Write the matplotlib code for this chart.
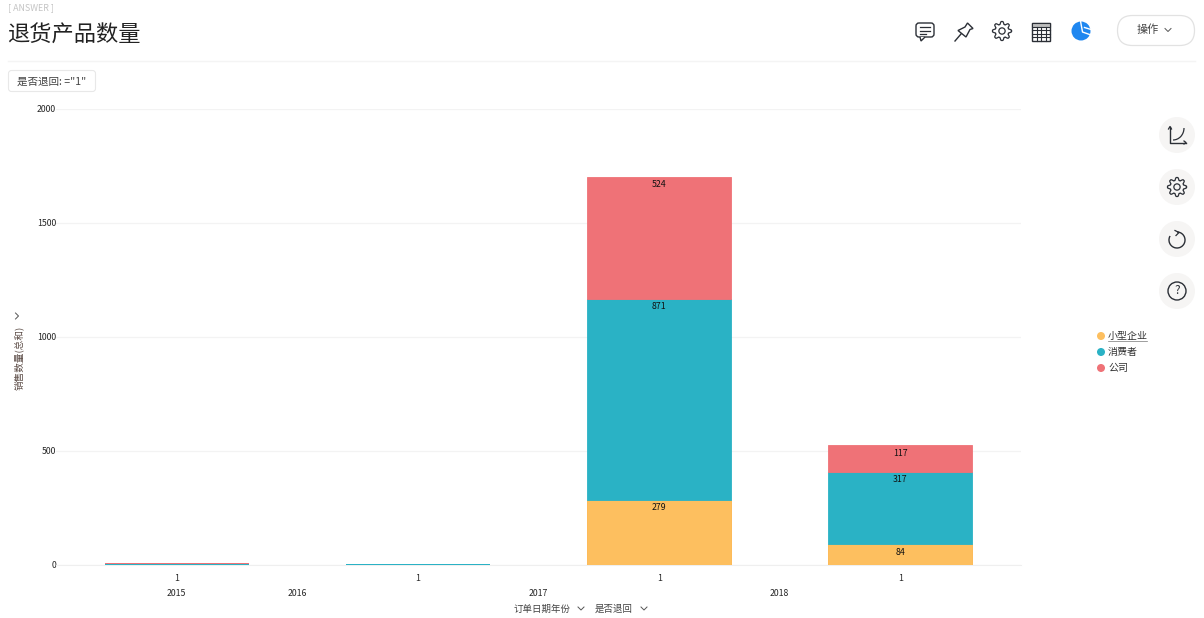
import numpy as np
import matplotlib
matplotlib.use('Agg')
import matplotlib.pyplot as plt
from matplotlib.patches import Circle, FancyBboxPatch, Polygon, Rectangle, Arc

plt.rcParams['font.family'] = ['Noto Sans CJK SC', 'DejaVu Sans']

# ----------------------------------------------
# data
years = ['2015', '2016', '2017', '2018']
returned = ['1', '1', '1', '1']
segments = ['小型企业', '消费者', '公司']
# bar heights as read against the y axis
small_business = [1, 0, 287, 90]
consumer = [3, 6, 881, 320]
company = [5, 0, 534, 116]
# numbers printed on the bars, slightly smaller than the drawn heights
small_business_labels = ['', '', '279', '84']
consumer_labels = ['', '', '871', '317']
company_labels = ['', '', '524', '117']
y_ticks = [0, 500, 1000, 1500, 2000]
colors = ['#FDBF5F', '#2AB2C5', '#EF7277']
edges = ['#FDB54A', '#2AB2C5', '#EF7277']

W, H = 1204, 618
TEXT = '#262626'
ICON = '#2b2f36'

fig = plt.figure(figsize=(W / 100, H / 100), dpi=100)

# overlay in pixel coordinates for the page chrome
page = fig.add_axes([0, 0, 1, 1], zorder=0)
page.set_xlim(0, W)
page.set_ylim(H, 0)
page.axis('off')

# ----------------------------------------------
# chart
ax = fig.add_axes([56 / W, (H - 565) / H, (1021 - 56) / W, (565 - 109) / H], zorder=1)
ax.patch.set_alpha(0)
x = np.arange(len(years))
bottom = np.zeros(len(years))
series = zip(segments, [small_business, consumer, company],
             [small_business_labels, consumer_labels, company_labels], colors, edges)
for name, values, labels, color, edge in series:
    widths = [0.6 if label else 0 for label in labels]  # slivers and empty bars get no outline
    ax.bar(x, values, width=0.597, bottom=bottom, color=color, edgecolor=edge, linewidth=widths, label=name, zorder=3)
    for xi, v, b, label in zip(x, values, bottom, labels):
        if label:
            ax.annotate(label, (xi, b + v), xytext=(0, -8), textcoords='offset pixels',
                        ha='center', va='center', fontsize=6.3, color='#111111', zorder=4)
    bottom += np.array(values)

ax.set_xlim(-0.5, len(years) - 0.5)
ax.set_ylim(0, 2000)
ax.set_yticks(y_ticks)
ax.set_xticks(x)
ax.set_xticklabels(returned)
ax.tick_params(axis='both', length=0, labelsize=6.3, labelcolor=TEXT)
ax.tick_params(axis='x', pad=6.5)
ax.tick_params(axis='y', pad=0)
ax.grid(axis='y', color='#f3f3f3', linewidth=0.9, zorder=0)
ax.set_axisbelow(True)
for side in ['top', 'right', 'left']:
    ax.spines[side].set_visible(False)
ax.spines['bottom'].set_color('#efefef')

# year labels sit half a category to the left, except the first one
for i, year in enumerate(years):
    pos = 0 if i == 0 else i - 0.5
    ax.annotate(year, (pos, 0), xycoords=('data', 'axes fraction'), xytext=(0, -28), textcoords='offset pixels',
                ha='center', va='center', fontsize=6.3, color=TEXT)

# ----------------------------------------------
# helpers for icons
def chevron(cx, cy, size=3, color='#555555', right=False):
    if right:
        page.plot([cx - size / 2, cx + size / 2, cx - size / 2], [cy - size, cy, cy + size], color=color, lw=0.7)
    else:
        page.plot([cx - size, cx, cx + size], [cy - size / 2, cy + size / 2, cy - size / 2], color=color, lw=0.7)

def gear(cx, cy, r=9.5):
    angles = np.linspace(0, 2 * np.pi, 65)
    radius = r * (0.86 + 0.14 * np.clip(2.2 * np.cos(8 * angles), -1, 1))
    page.plot(cx + radius * np.cos(angles), cy + radius * np.sin(angles), color=ICON, lw=0.9)
    page.add_patch(Circle((cx, cy), r * 0.33, fill=False, ec=ICON, lw=0.9))

# ----------------------------------------------
# header
page.text(8, 8, '[ ANSWER ]', fontsize=6.4, color='#c4c4c4', va='center', ha='left')
page.text(7.5, 35.5, '退货产品数量', fontsize=16, color='#222222', va='center', ha='left')
page.plot([8, 1195], [61, 61], color='#f4f4f4', lw=1)

page.add_patch(FancyBboxPatch((8.5, 70.5), 87, 21, boxstyle='round,pad=0,rounding_size=3', fc='white', ec='#e8e8e8', lw=0.8))
page.text(17, 81.5, '是否退回: ="1"', fontsize=7.6, color='#444444', va='center', ha='left')

# chat icon
page.add_patch(FancyBboxPatch((916, 23), 18, 14, boxstyle='round,pad=0,rounding_size=3', fc='white', ec=ICON, lw=1))
page.add_patch(Polygon([[920, 37], [921, 41], [925, 37]], closed=False, fc='white', ec=ICON, lw=1))
for ly, x1 in zip([27, 30.5, 34], [930, 930, 926]):
    page.plot([919.5, x1], [ly, ly], color=ICON, lw=0.9)

# pin icon
page.add_patch(Polygon([[967.5, 23], [973, 28.5], [970, 29.5], [966, 37], [958, 30.5], [965, 27]], closed=True, fc='white', ec=ICON, lw=1))
page.plot([955, 961], [41, 34], color=ICON, lw=1)

gear(1002, 31)

# table icon
page.add_patch(Rectangle((1032, 22.5), 18, 18, fc='white', ec=ICON, lw=1))
page.add_patch(Rectangle((1032, 22.5), 18, 4, fc='#bdbdbd', ec=ICON, lw=0.8))
for gx in [1036.5, 1041, 1045.5]:
    page.plot([gx, gx], [26.5, 40.5], color=ICON, lw=0.8)
for gy in [30, 33.5, 37]:
    page.plot([1032, 1050], [gy, gy], color=ICON, lw=0.8)

# pie icon
page.add_patch(Circle((1081, 31), 9.5, fc='#1f87f0', ec='none'))
page.plot([1080.5, 1082.5, 1091], [21, 32, 35], color='white', lw=1)
page.plot([1084.5, 1091], [27.5, 29.5], color='white', lw=1)

# operate button
page.add_patch(FancyBboxPatch((1117.5, 15.5), 77, 30, boxstyle='round,pad=0,rounding_size=15', fc='white', ec='#e2e2e2', lw=0.9))
page.text(1148, 29.5, '操作', fontsize=8, color='#444444', va='center', ha='center')
chevron(1168, 30, size=3)

# side buttons
for cy in [135, 187, 239, 291]:
    page.add_patch(Circle((1177, cy), 18, fc='#f6f5f4', ec='none'))
page.plot([1170, 1170, 1186], [127, 142.5, 142.5], color=ICON, lw=1)
page.plot([1168.5, 1170, 1171.5], [129, 126.5, 129], color=ICON, lw=0.9)
page.plot([1184, 1186, 1184], [141, 142.5, 144], color=ICON, lw=0.9)
page.add_patch(Arc((1173, 128), 22, 24, theta1=0, theta2=90, ec=ICON, lw=0.9))
gear(1177, 187)
page.add_patch(Arc((1177, 240), 16, 16, theta1=-90, theta2=210, ec=ICON, lw=1))
page.plot([1175, 1179, 1176], [230.5, 232.5, 235.5], color=ICON, lw=0.9)
page.add_patch(Circle((1177, 291), 9, fill=False, ec=ICON, lw=1))
page.text(1177, 290.5, '?', fontsize=8.5, color=ICON, va='center', ha='center')

# legend
for i, (name, color) in enumerate(zip(segments, colors)):
    ly = 336 + i * 16
    page.add_patch(Circle((1101, ly), 4, fc=color, ec='none'))
    page.text(1108, ly - 0.5, name, fontsize=7.2, color='#333333', va='center', ha='left')
page.plot([1108, 1147], [340.5, 340.5], color='#777777', lw=0.5)

# axis titles
page.text(18.5, 358, '销售数量(总和)', fontsize=6.9, color='#5a4a44', rotation=90, va='center', ha='center')
chevron(17, 316, size=3, right=True)
page.text(514, 609.5, '订单日期年份', fontsize=6.8, color='#444444', va='center', ha='left')
chevron(581, 608.5, size=3)
page.text(595, 609.5, '是否退回', fontsize=6.8, color='#444444', va='center', ha='left')
chevron(644, 608.5, size=3)

fig.savefig('out.png', dpi=100)
